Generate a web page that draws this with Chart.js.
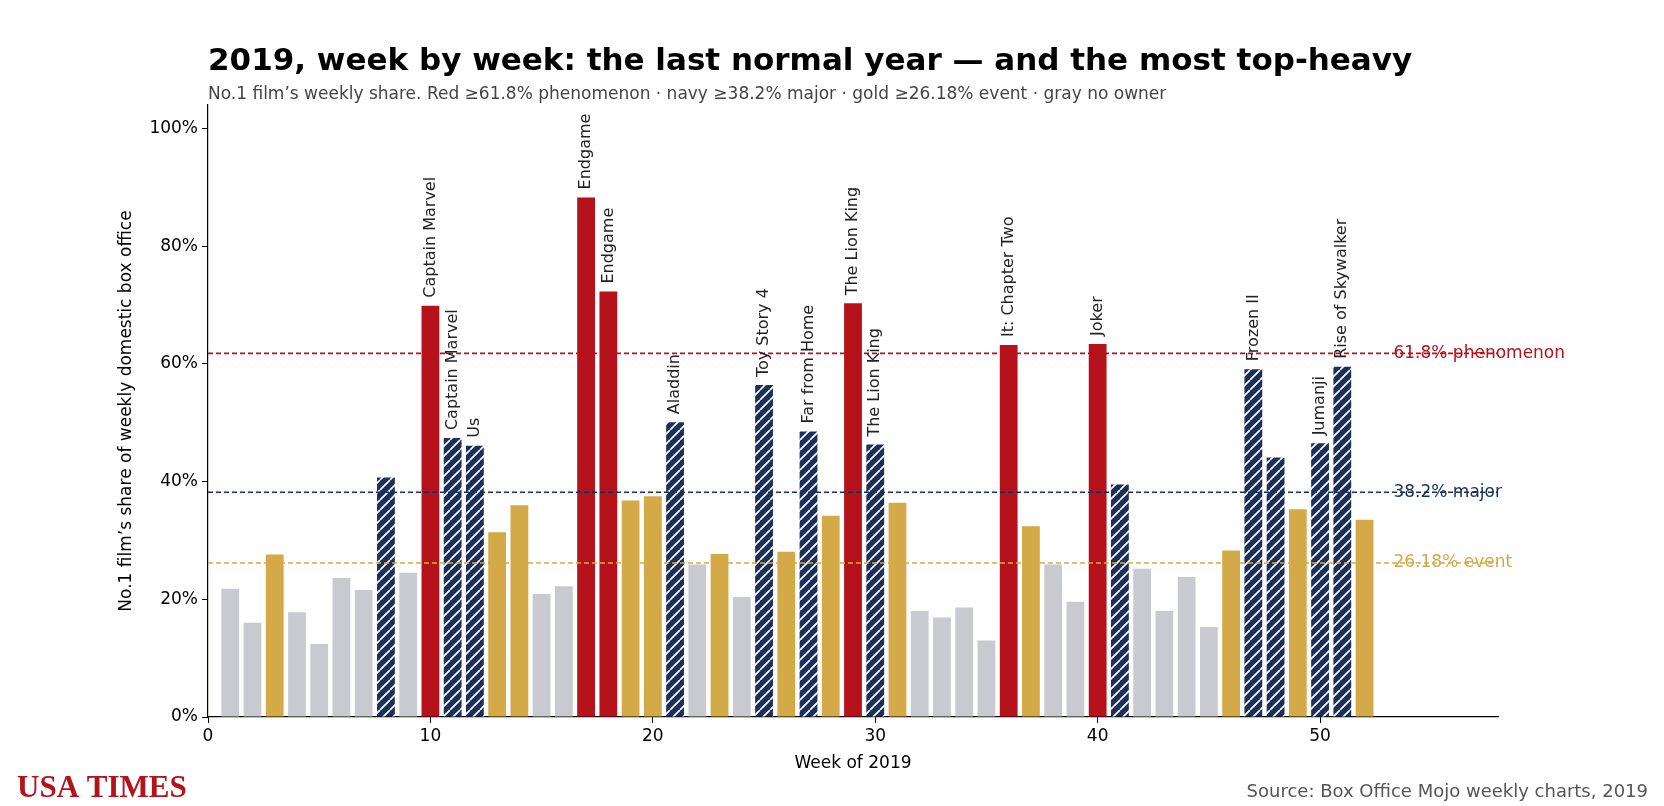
<!DOCTYPE html>
<html>
<head>
<meta charset="utf-8">
<script src="https://cdn.jsdelivr.net/npm/chart.js@4.4.1/dist/chart.umd.min.js"></script>
<style>
  html, body { margin: 0; padding: 0; background: #fff; }
  #wrap { position: relative; width: 1664px; height: 806px; }
</style>
</head>
<body>
<div id="wrap"><canvas id="chart" width="1664" height="806"></canvas></div>
<script>
// weekly share of the No.1 film, 2019
const weeks = Array.from({ length: 52 }, (_, i) => i + 1)
const shares = [
  21.8, 16.0, 27.6, 17.8, 12.4, 23.6, 21.6, 40.7, 24.5, 69.9,
  47.4, 46.1, 31.4, 36.0, 20.9, 22.2, 88.3, 72.3, 36.8, 37.5,
  50.1, 25.9, 27.7, 20.4, 56.4, 28.1, 48.5, 34.2, 70.3, 46.3,
  36.4, 18.0, 16.9, 18.6, 13.0, 63.2, 32.4, 25.9, 19.6, 63.4,
  39.5, 25.2, 18.0, 23.8, 15.3, 28.3, 59.1, 44.1, 35.3, 46.5,
  59.5, 33.5
]
// gray weeks have no owner, but some sit above the event line
const noOwnerWeeks = [22, 38, 42]
const filmLabels = {
  10: 'Captain Marvel', 11: 'Captain Marvel', 12: 'Us', 17: 'Endgame', 18: 'Endgame',
  21: 'Aladdin', 25: 'Toy Story 4', 27: 'Far from Home', 29: 'The Lion King',
  30: 'The Lion King', 36: 'It: Chapter Two', 40: 'Joker', 47: 'Frozen II',
  50: 'Jumanji', 51: 'Rise of Skywalker'
}
const thresholds = [61.8, 38.2, 26.18]
const thresholdLabels = ['61.8% phenomenon', '38.2% major', '26.18% event']
const yTicks = [0, 20, 40, 60, 80, 100]
const xTicks = [0, 10, 20, 30, 40, 50]

const RED = '#b5121b', NAVY = '#1a2f5a', GOLD = '#d4a947', GRAY = '#c8cad0'
const lineColors = [RED, NAVY, GOLD]
const FONT = '"DejaVu Sans", sans-serif'

function navyHatch() {
  const c = document.createElement('canvas')
  c.width = 10; c.height = 10
  const g = c.getContext('2d')
  g.fillStyle = NAVY
  g.fillRect(0, 0, 10, 10)
  g.strokeStyle = '#fff'
  g.lineWidth = 1.7
  g.beginPath()
  for (let k = -10; k <= 20; k += 10) {
    g.moveTo(k, 10); g.lineTo(k + 10, 0)
  }
  g.stroke()
  return document.getElementById('chart').getContext('2d').createPattern(c, 'repeat')
}
const hatch = navyHatch()

function colorFor(week, v) {
  if (noOwnerWeeks.includes(week)) return GRAY
  if (v >= 61.8) return RED
  if (v >= 38.2) return hatch
  if (v >= 26.18) return GOLD
  return GRAY
}

const overlay = {
  id: 'overlay',
  afterDatasetsDraw(chart) {
    const { ctx, chartArea, scales: { x, y } } = chart
    ctx.save()
    // threshold lines
    thresholds.forEach((t, i) => {
      const py = y.getPixelForValue(t)
      ctx.strokeStyle = lineColors[i]
      ctx.lineWidth = 1.6
      ctx.setLineDash([5, 3])
      ctx.beginPath()
      ctx.moveTo(chartArea.left, py)
      ctx.lineTo(chartArea.right, py)
      ctx.stroke()
      ctx.setLineDash([])
      ctx.fillStyle = lineColors[i]
      ctx.font = '17px ' + FONT
      ctx.textAlign = 'left'
      ctx.textBaseline = 'middle'
      ctx.fillText(thresholdLabels[i], x.getPixelForValue(53.3), py)
    })
    // film labels above bars
    ctx.fillStyle = '#222'
    ctx.font = '16px ' + FONT
    Object.entries(filmLabels).forEach(([w, name]) => {
      const px = x.getPixelForValue(+w)
      const py = y.getPixelForValue(shares[w - 1]) - 8
      ctx.save()
      ctx.translate(px, py)
      ctx.rotate(-Math.PI / 2)
      ctx.textAlign = 'left'
      ctx.textBaseline = 'middle'
      ctx.fillText(name, 0, 0)
      ctx.restore()
    })
    // axis titles
    ctx.fillStyle = '#000'
    ctx.font = '17px ' + FONT
    ctx.textAlign = 'center'
    ctx.textBaseline = 'middle'
    ctx.fillText('Week of 2019', (chartArea.left + chartArea.right) / 2, 764)
    ctx.save()
    ctx.translate(127, (chartArea.top + chartArea.bottom) / 2)
    ctx.rotate(-Math.PI / 2)
    ctx.fillText('No.1 film’s share of weekly domestic box office', 0, 0)
    ctx.restore()
    // titles and footer
    ctx.textAlign = 'left'
    ctx.textBaseline = 'alphabetic'
    ctx.font = 'bold 31px ' + FONT
    ctx.fillText('2019, week by week: the last normal year — and the most top-heavy', 208, 70)
    ctx.fillStyle = '#444'
    ctx.font = '17px ' + FONT
    ctx.fillText('No.1 film’s weekly share. Red ≥61.8% phenomenon · navy ≥38.2% major · gold ≥26.18% event · gray no owner', 208, 99)
    ctx.fillStyle = RED
    ctx.font = 'bold 31px "Liberation Serif", serif'
    ctx.fillText('USA TIMES', 17, 797)
    ctx.fillStyle = '#555'
    ctx.font = '18px ' + FONT
    ctx.textAlign = 'right'
    ctx.fillText('Source: Box Office Mojo weekly charts, 2019', 1648, 797)
    ctx.restore()
  }
}

Chart.defaults.font.family = FONT
Chart.defaults.color = '#000'

const tickGrid = { display: true, offset: false, drawOnChartArea: false, drawTicks: true, tickLength: 6, color: '#000', tickWidth: 1 }

new Chart(document.getElementById('chart'), {
  type: 'bar',
  data: {
    datasets: [{
      data: weeks.map((w, i) => ({ x: w, y: shares[i] })),
      backgroundColor: weeks.map((w, i) => colorFor(w, shares[i])),
      borderWidth: 0,
      categoryPercentage: 0.8,
      barPercentage: 1
    }]
  },
  options: {
    responsive: false,
    animation: false,
    layout: { padding: { top: 105, right: 166 } },
    plugins: { legend: { display: false }, tooltip: { enabled: false } },
    scales: {
      x: {
        type: 'linear', min: 0, max: 58, offset: false,
        afterBuildTicks: (s) => { s.ticks = xTicks.map(v => ({ value: v })) },
        afterFit: (s) => { s.height = 89 },
        grid: tickGrid,
        border: { color: '#000', width: 1.2 },
        ticks: { font: { size: 17 }, padding: 3 }
      },
      y: {
        min: 0, max: 104,
        afterBuildTicks: (s) => { s.ticks = yTicks.map(v => ({ value: v })) },
        afterFit: (s) => { s.width = 208 },
        grid: tickGrid,
        border: { color: '#000', width: 1.2 },
        ticks: { font: { size: 17 }, padding: 4, callback: v => v + '%' }
      }
    }
  },
  plugins: [overlay]
})
</script>
</body>
</html>
